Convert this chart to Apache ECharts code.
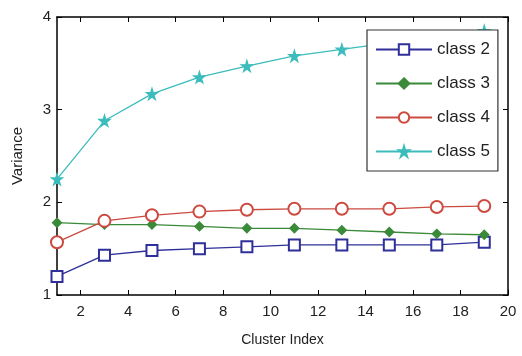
<!DOCTYPE html>
<html><head><meta charset="utf-8">
<script src="https://cdn.jsdelivr.net/npm/echarts@6/dist/echarts.min.js"></script>
<style>html,body{margin:0;padding:0;background:#fff}#c{width:522px;height:356px}</style>
</head><body><div id="c"></div>
<script>
const xs = [1,3,5,7,9,11,13,15,17,19];
const class2 = [1.20,1.43,1.48,1.50,1.52,1.54,1.54,1.54,1.54,1.57];
const class3 = [1.78,1.76,1.76,1.74,1.72,1.72,1.70,1.68,1.66,1.65];
const class4 = [1.57,1.80,1.86,1.90,1.92,1.93,1.93,1.93,1.95,1.96];
const class5 = [2.25,2.88,3.17,3.35,3.47,3.58,3.65,3.72,3.78,3.85];
const names = ['class 2','class 3','class 4','class 5'];
const xTicks = [2,4,6,8,10,12,14,16,18,20];
const yTicks = [1,2,3,4];

const font = '"Liberation Sans Narrow","Liberation Sans",Arial,sans-serif';
const star = 'path://M50,0 L61,35 L98,35 L68,57 L79,91 L50,70 L21,91 L32,57 L2,35 L39,35 Z';
const pair = a => xs.map((x,i)=>[x,a[i]]);
const series = [
  {name:names[0], data:pair(class2), color:'#2f2f9a', symbol:'emptyRect', symbolSize:11},
  {name:names[1], data:pair(class3), color:'#3a8a3a', symbol:'diamond', symbolSize:9},
  {name:names[2], data:pair(class4), color:'#cc4a40', symbol:'emptyCircle', symbolSize:12},
  {name:names[3], data:pair(class5), color:'#3cbcbc', symbol:star, symbolSize:11}
].map(s=>({type:'line', name:s.name, data:s.data, symbol:s.symbol, symbolSize:s.symbolSize,
  itemStyle:{color:s.color, borderColor:s.color, borderWidth:1.3}, lineStyle:{color:s.color,width:1.3},
  showAllSymbol:true, animation:false}));

const axLine = {show:true, lineStyle:{color:'#000', width:1.5}};
const chart = echarts.init(document.getElementById('c'));
chart.setOption({
  animation:false,
  grid:{left:57, right:14, top:17, bottom:61},
  xAxis:[
    {type:'value', min:1, max:20, position:'bottom', axisLine:axLine,
     axisTick:{inside:true, length:5, customValues:xTicks, lineStyle:{color:'#000'}},
     axisLabel:{customValues:xTicks, color:'#222', fontFamily:font, fontSize:15, margin:9},
     splitLine:{show:false},
     name:'Cluster Index', nameLocation:'middle', nameGap:38,
     nameTextStyle:{color:'#222', fontFamily:font, fontSize:14}},
    {type:'value', min:1, max:20, position:'top', axisLine:axLine,
     axisTick:{inside:true, length:5, customValues:xTicks, lineStyle:{color:'#000'}},
     axisLabel:{show:false}, splitLine:{show:false}}
  ],
  yAxis:[
    {type:'value', min:1, max:4, interval:1, position:'left', axisLine:axLine,
     axisTick:{inside:true, length:5, customValues:yTicks, lineStyle:{color:'#000'}},
     axisLabel:{customValues:yTicks, color:'#222', fontFamily:font, fontSize:15, margin:6},
     splitLine:{show:false},
     name:'Variance', nameLocation:'middle', nameGap:32,
     nameTextStyle:{color:'#222', fontFamily:font, fontSize:15}},
    {type:'value', min:1, max:4, interval:1, position:'right', axisLine:axLine,
     axisTick:{inside:true, length:5, customValues:yTicks, lineStyle:{color:'#000'}},
     axisLabel:{show:false}, splitLine:{show:false}}
  ],
  legend:{orient:'vertical', left:367, top:30, width:133,
    data:names, backgroundColor:'#fff', borderColor:'#333', borderWidth:1.2,
    padding:[11,8,11,8], itemGap:17, itemWidth:56, itemHeight:13,
    textStyle:{color:'#222', fontFamily:font, fontSize:17}},
  series
});
</script></body></html>
